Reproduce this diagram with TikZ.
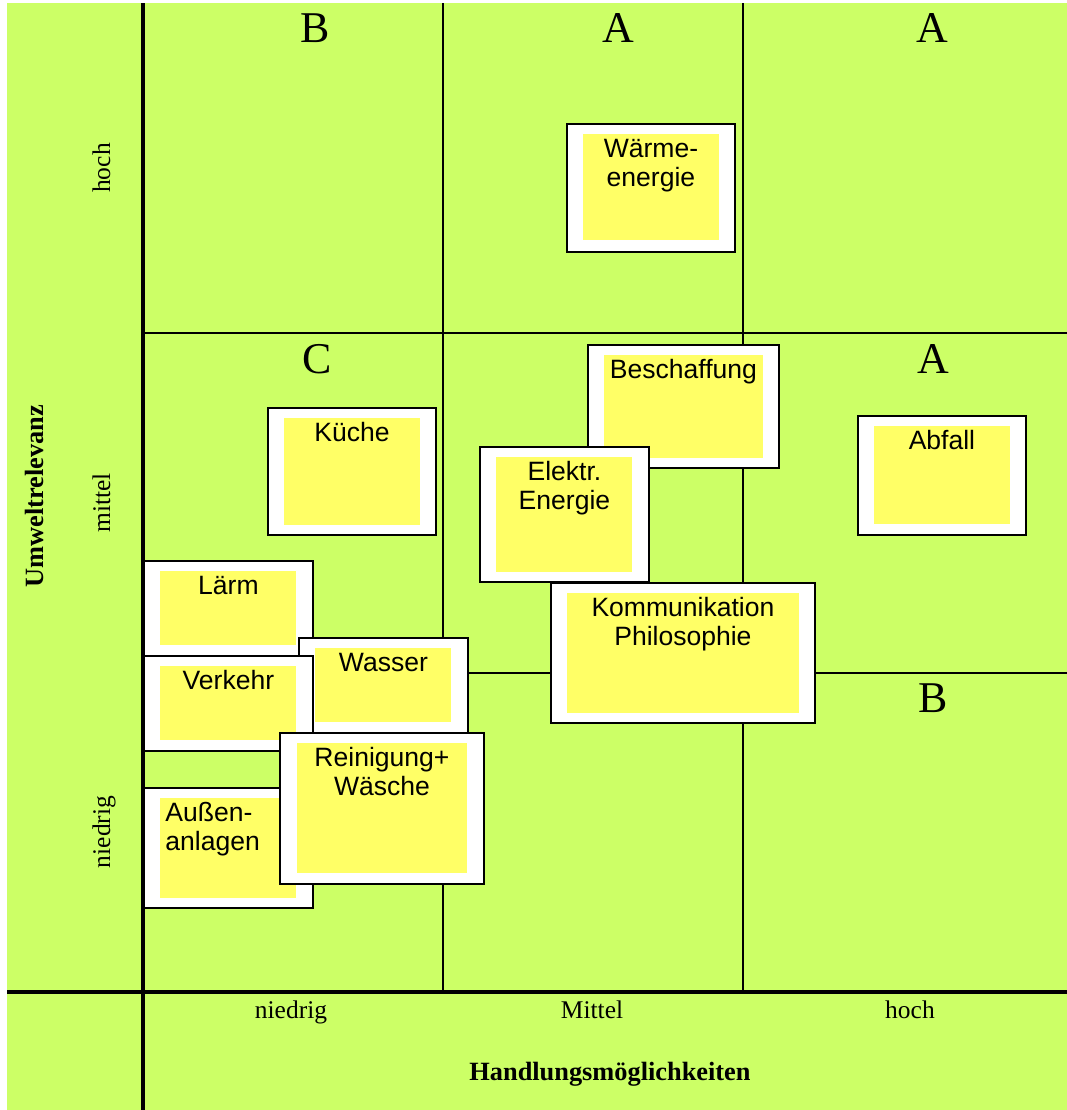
\documentclass[tikz,border=0pt]{standalone}
\usepackage{fontspec}
\setmainfont{Liberation Serif}
\setsansfont{Liberation Sans}
\usepackage{tikz}

\definecolor{gruen}{RGB}{204,255,102}
\definecolor{gelb}{RGB}{255,255,102}

\begin{document}
\begin{tikzpicture}[x=0.02cm, y=-0.02cm,
  duenn/.style={line width=1.1pt},
  dick/.style={line width=2.1pt},
  karte/.style={draw=black, fill=white, line width=1.1pt, anchor=north west, inner sep=0pt},
  zettel/.style={fill=gelb, anchor=north, inner sep=0pt, text height=0.48cm, align=center,
    font=\sffamily\fontsize{15.1}{16.5}\selectfont},
  klasse/.style={anchor=base, font=\fontsize{25}{30}\selectfont},
  stufe/.style={anchor=base, font=\fontsize{14.5}{17}\selectfont},
  titel/.style={anchor=base, font=\bfseries\fontsize{15}{18}\selectfont}]
			\useasboundingbox (0,0) rectangle (1067,1110);
			\fill[gruen] (7,3) rectangle (1067,1110);
			
			% Raster
			\draw[duenn] (443,3) -- (443,992);
			\draw[duenn] (743,3) -- (743,992);
			\draw[duenn] (143,333) -- (1067,333);
			\draw[duenn] (143,673) -- (1067,673);
			\draw[dick] (143,3) -- (143,1110);
			\draw[dick] (7,992) -- (1067,992);
			
			\node[klasse] (k1) at (315,42) {B};
			\node[klasse] (k2) at (618,42) {A};
			\node[klasse] (k3) at (932,42) {A};
			\node[klasse] (k4) at (317,373) {C};
			\node[klasse] (k5) at (933,373) {A};
			\node[klasse] (k6) at (933,712) {B};
			
			\node[karte, minimum width=3.36cm, minimum height=2.56cm] (waerme) at (566,123) {};
			\node[zettel, text width=2.72cm, text depth=1.64cm] (waerme-z) at ([yshift=-0.21cm]waerme.north) {Wärme-\\energie};
			\node[karte, minimum width=3.36cm, minimum height=2.54cm] (kueche) at (267,407) {};
			\node[zettel, text width=2.72cm, text depth=1.66cm] (kueche-z) at ([yshift=-0.21cm]kueche.north) {Küche};
			\node[karte, minimum width=3.36cm, minimum height=2.38cm] (abfall) at (857,415) {};
			\node[zettel, text width=2.72cm, text depth=1.48cm] (abfall-z) at ([yshift=-0.21cm]abfall.north) {Abfall};
			\node[karte, minimum width=3.82cm, minimum height=2.46cm] (beschaffung) at (587,344) {};
			\node[zettel, text width=3.18cm, text depth=1.58cm] (beschaffung-z) at ([yshift=-0.21cm]beschaffung.north) {Beschaffung};
			\node[karte, minimum width=3.38cm, minimum height=2.70cm] (strom) at (479,446) {};
			\node[zettel, text width=2.72cm, text depth=1.82cm] (strom-z) at ([yshift=-0.21cm]strom.north) {Elektr.\\Energie};
			\node[karte, minimum width=5.28cm, minimum height=2.80cm] (kommunikation) at (550,582) {};
			\node[zettel, text width=4.64cm, text depth=1.92cm] (kommunikation-z) at ([yshift=-0.21cm]kommunikation.north) {Kommunikation\\Philosophie};
			\node[karte, minimum width=3.38cm, minimum height=1.90cm] (laerm) at (143,560) {};
			\node[zettel, text width=2.72cm, text depth=1.00cm] (laerm-z) at ([yshift=-0.21cm]laerm.north) {Lärm};
			\node[karte, minimum width=3.38cm, minimum height=1.92cm] (wasser) at (298,637) {};
			\node[zettel, text width=2.72cm, text depth=1.00cm] (wasser-z) at ([yshift=-0.21cm]wasser.north) {Wasser};
			\node[karte, minimum width=3.38cm, minimum height=1.90cm] (verkehr) at (143,655) {};
			\node[zettel, text width=2.72cm, text depth=1.00cm] (verkehr-z) at ([yshift=-0.21cm]verkehr.north) {Verkehr};
			\node[karte, minimum width=3.38cm, minimum height=2.40cm] (aussen) at (143,787) {};
			\node[zettel, text width=2.52cm, inner xsep=0.1cm, align=left, text depth=1.52cm] (aussen-z) at ([yshift=-0.21cm]aussen.north) {Außen-\\anlagen};
			\node[karte, minimum width=4.08cm, minimum height=3.02cm] (reinigung) at (279,732) {};
			\node[zettel, text width=3.40cm, text depth=2.12cm] (reinigung-z) at ([yshift=-0.21cm]reinigung.north) {Reinigung+\\Wäsche};
			
			% Achsen
			\node[stufe, rotate=90] (y-hoch) at (110,168) {hoch};
			\node[stufe, rotate=90] (y-mittel) at (110,503) {mittel};
			\node[stufe, rotate=90] (y-niedrig) at (110,832) {niedrig};
			\node[titel, rotate=90] (y-titel) at (43,496) {Umweltrelevanz};
			\node[stufe] (x-niedrig) at (291,1018) {niedrig};
			\node[stufe] (x-mittel) at (592,1018) {Mittel};
			\node[stufe] (x-hoch) at (910,1018) {hoch};
			\node[titel] (x-titel) at (610,1080) {Handlungsmöglichkeiten};
		\end{tikzpicture}
\end{document}
